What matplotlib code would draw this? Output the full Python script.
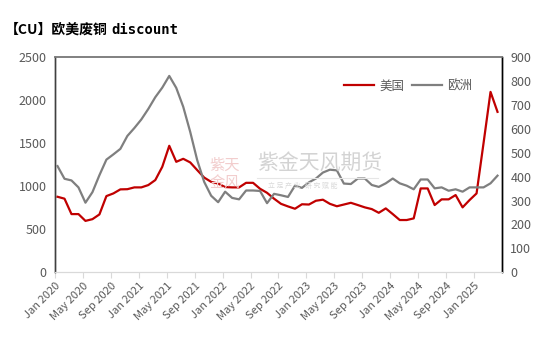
import matplotlib
matplotlib.use("Agg")
import matplotlib.pyplot as plt
from matplotlib.lines import Line2D
from matplotlib.patches import FancyBboxPatch
import numpy as np

plt.rcParams['font.family'] = ['Noto Sans CJK SC', 'DejaVu Sans']

# monthly data Jan 2020 .. Apr 2025
us = [877, 855, 676, 676, 597, 617, 672, 885, 916, 963, 965, 986, 986, 1013, 1071, 1225,
      1469, 1283, 1318, 1276, 1187, 1100, 1050, 1030, 990, 986, 986, 1039, 1039, 970, 923, 855,
      795, 765, 738, 790, 787, 831, 843, 795, 767, 787, 807, 781, 754, 734, 691, 742,
      676, 607, 607, 626, 974, 974, 781, 847, 847, 897, 754, 839, 916, 1500, 2095, 1863]
eu = [444, 391, 384, 355, 291, 335, 406, 471, 493, 516, 570, 603, 639, 683, 732, 772,
      821, 771, 692, 587, 469, 378, 320, 293, 337, 311, 305, 342, 342, 340, 289, 328,
      322, 315, 362, 353, 376, 392, 417, 429, 426, 371, 369, 392, 392, 365, 357, 372,
      392, 372, 362, 347, 388, 388, 351, 355, 341, 347, 337, 355, 355, 355, 372, 404]
tick_labels = ['Jan 2020', 'May 2020', 'Sep 2020', 'Jan 2021', 'May 2021', 'Sep 2021',
               'Jan 2022', 'May 2022', 'Sep 2022', 'Jan 2023', 'May 2023', 'Sep 2023',
               'Jan 2024', 'May 2024', 'Sep 2024', 'Jan 2025']
left_ticks = [0, 500, 1000, 1500, 2000, 2500]
right_ticks = [0, 100, 200, 300, 400, 500, 600, 700, 800, 900]

RED = '#C00000'
GRAY = '#7F7F7F'
TXT = '#595959'

fig = plt.figure(figsize=(5.5, 3.42), dpi=100)
ax = fig.add_axes([0.1, 0.2038, 0.8127, 0.6295])
ax2 = ax.twinx()

x = np.arange(len(us))
ax.plot(x, us, color=RED, lw=1.6, zorder=3)
ax2.plot(x, eu, color=GRAY, lw=1.6, zorder=3)

ax.set_xlim(-0.36, 63.64)
ax.set_ylim(0, 2500)
ax2.set_ylim(0, 900)
ax.set_yticks(left_ticks)
ax2.set_yticks(right_ticks)
ax.set_xticks(np.arange(0, 64, 4) - 0.36)
ax.set_xticklabels(tick_labels, rotation=45, ha='right', rotation_mode='anchor',
                   fontsize=8, color=TXT)

ax.tick_params(axis='y', length=0, labelsize=9, labelcolor=TXT, pad=6)
ax2.tick_params(axis='y', length=0, labelsize=9, labelcolor=TXT, pad=6)
ax.tick_params(axis='x', length=4, color='#D9D9D9', pad=2)

for a in (ax, ax2):
    a.spines['top'].set_color('#808080')
    a.spines['top'].set_linewidth(1.2)
    a.spines['bottom'].set_color('#D9D9D9')
    a.spines['left'].set_color('#404040')
    a.spines['right'].set_color('#000000')
    a.spines['left'].set_linewidth(1.0)
    a.spines['right'].set_linewidth(1.0)

# watermark
fig.text(257/550, 1-163/342, '紫金天风期货', fontsize=15, color='#D3D3D3',
         va='center', ha='left', zorder=0)
fig.add_artist(Line2D([257/550, 378/550], [1-178/342, 1-178/342], color='#E6E6E6', lw=0.8))
fig.text(268/550, 1-186/342, '立 足 产 业   研 究 赋 能', fontsize=5, color='#D9D9D9',
         va='center', ha='left')
seal = FancyBboxPatch((204/550, 1-198/342), 42/550, 48/342, boxstyle='round,pad=0.002',
                      transform=fig.transFigure, fc='#FCEFEF', ec='#F6D9D9', lw=0.8, zorder=0)
fig.add_artist(seal)
fig.text(225/550, 1-174/342, '紫天\n金风', fontsize=11, color='#F2CDCD', ha='center',
         va='center', linespacing=1.0)

# legend
handles = [Line2D([], [], color=RED, lw=1.6), Line2D([], [], color=GRAY, lw=1.6)]
leg = ax.legend(handles, ['美国', '欧洲'], loc='upper right', bbox_to_anchor=(0.958, 0.948),
                ncol=2, frameon=False, fontsize=9, handlelength=2.4, columnspacing=0.6,
                handletextpad=0.4, labelcolor=TXT)

fig.text(5/550, 1-30/342, '【CU】欧美废铜', fontsize=10, fontweight='bold', color='black',
         va='center', ha='left')
fig.text(111/550, 1-30/342, 'discount', fontsize=10, fontweight='bold', color='black',
         va='center', ha='left', family='DejaVu Sans Mono')

fig.savefig('out.png', dpi=100)
